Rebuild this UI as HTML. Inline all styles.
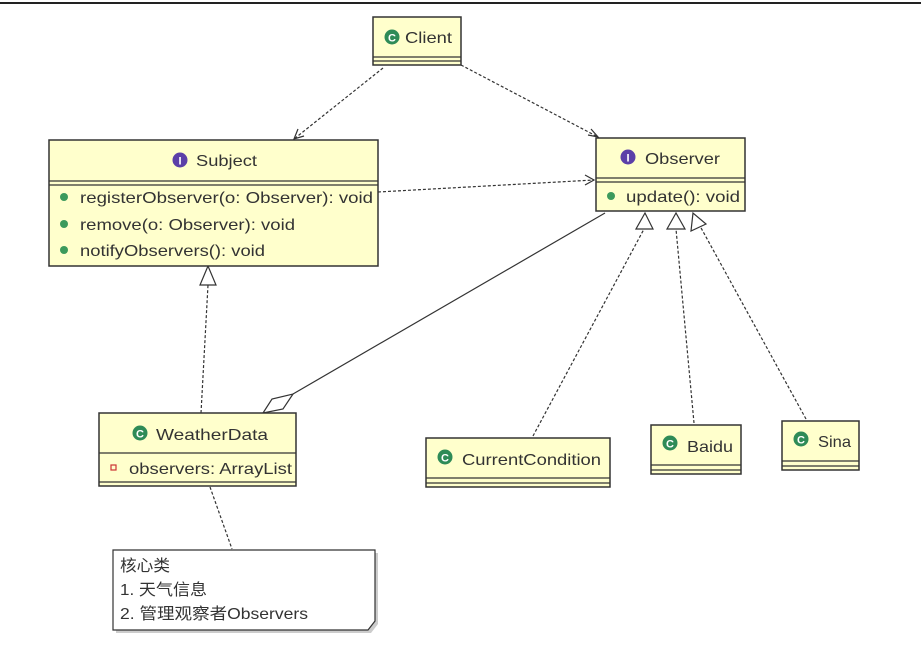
<!DOCTYPE html>
<html><head><meta charset="utf-8"><style>
html,body{margin:0;padding:0;background:#fff;width:921px;height:653px;overflow:hidden}
svg{display:block}
text{font-family:"Liberation Sans","Noto Sans CJK SC",sans-serif;fill:#333;font-size:16px}
</style></head><body>
<svg width="921" height="653" viewBox="0 0 921 653" xmlns="http://www.w3.org/2000/svg">
<defs>
<g id="gC"><circle r="7.5" fill="#2e8b57"/><text x="0" y="4.5" text-anchor="middle" style="font-size:11px;font-weight:bold;fill:#fff">C</text></g>
<g id="gI"><circle r="7.5" fill="#5b3fa8"/><text x="0" y="4.5" text-anchor="middle" style="font-size:11px;font-weight:bold;fill:#fff">I</text></g>
</defs>
<line x1="0" y1="3" x2="921" y2="3" stroke="#222" stroke-width="2"/>

<g stroke="#333" stroke-width="1.2" fill="none" stroke-dasharray="3,2">
<line x1="383" y1="68" x2="294" y2="139"/>
<line x1="461" y1="65" x2="598" y2="137"/>
<line x1="378" y1="192" x2="594" y2="180"/>
<line x1="201" y1="413" x2="208" y2="285"/>
<line x1="533" y1="436" x2="644" y2="229"/>
<line x1="694" y1="423" x2="676" y2="229"/>
<line x1="806" y1="419" x2="700" y2="226"/>
<line x1="210" y1="487" x2="232" y2="549"/>
</g>
<g stroke="#333" stroke-width="1.2" fill="none">
<polyline points="298,129 294,139 304,136"/>
<polyline points="588,135 598,137 591,129"/>
<polyline points="585,175 594,180 585,185"/>
<polygon points="208,266 200,285 216,285" fill="#fff"/>
<polygon points="645,213 636,229 653,229" fill="#fff"/>
<polygon points="676,213 667,229 685,229" fill="#fff"/>
<polygon points="693,213 691,231 706,224" fill="#fff"/>
<line x1="605" y1="213" x2="293" y2="394"/>
<polygon points="263,413 272,399 293,394 283,409" fill="#fff"/>
</g>

<g stroke="#333" stroke-width="1.5" fill="#ffffcc">
<rect x="373" y="17" width="88" height="48"/>
<rect x="49" y="140" width="329" height="126"/>
<rect x="596" y="138" width="149" height="73"/>
<rect x="99" y="413" width="197" height="73"/>
<rect x="426" y="438" width="184" height="49"/>
<rect x="651" y="425" width="90" height="49"/>
<rect x="782" y="421" width="77" height="49"/>
</g>
<g stroke="#333" stroke-width="1.2">
<line x1="373" y1="57" x2="461" y2="57"/><line x1="373" y1="61" x2="461" y2="61"/>
<line x1="49" y1="181" x2="378" y2="181"/><line x1="49" y1="185" x2="378" y2="185"/>
<line x1="596" y1="178" x2="745" y2="178"/><line x1="596" y1="182" x2="745" y2="182"/>
<line x1="99" y1="453" x2="296" y2="453"/><line x1="99" y1="482" x2="296" y2="482"/>
<line x1="426" y1="478" x2="610" y2="478"/><line x1="426" y1="483" x2="610" y2="483"/>
<line x1="651" y1="465" x2="741" y2="465"/><line x1="651" y1="470" x2="741" y2="470"/>
<line x1="782" y1="461" x2="859" y2="461"/><line x1="782" y1="466" x2="859" y2="466"/>
</g>

<g style="" >
<use href="#gC" x="392" y="37"/><text x="405" y="43" textLength="47" lengthAdjust="spacingAndGlyphs">Client</text>
<use href="#gI" x="180" y="160"/><text x="196" y="166" textLength="61" lengthAdjust="spacingAndGlyphs">Subject</text>
<use href="#gI" x="628" y="157"/><text x="645" y="164" textLength="75" lengthAdjust="spacingAndGlyphs">Observer</text>
<use href="#gC" x="140" y="433"/><text x="156" y="440" textLength="112" lengthAdjust="spacingAndGlyphs">WeatherData</text>
<use href="#gC" x="445" y="457"/><text x="462" y="465" textLength="139" lengthAdjust="spacingAndGlyphs">CurrentCondition</text>
<use href="#gC" x="670" y="443"/><text x="687" y="452" textLength="46" lengthAdjust="spacingAndGlyphs">Baidu</text>
<use href="#gC" x="801" y="439"/><text x="818" y="447" textLength="33" lengthAdjust="spacingAndGlyphs">Sina</text>
</g>

<g fill="#3c9a5c"><circle cx="64" cy="197" r="4"/><circle cx="64" cy="224" r="4"/><circle cx="64" cy="250" r="4"/><circle cx="611" cy="196" r="4"/></g>
<text x="80" y="203" textLength="293" lengthAdjust="spacingAndGlyphs">registerObserver(o: Observer): void</text>
<text x="80" y="230" textLength="215" lengthAdjust="spacingAndGlyphs">remove(o: Observer): void</text>
<text x="80" y="256" textLength="185" lengthAdjust="spacingAndGlyphs">notifyObservers(): void</text>
<text x="626" y="202" textLength="114" lengthAdjust="spacingAndGlyphs">update(): void</text>
<rect x="111" y="465" width="5" height="5" fill="none" stroke="#c33" stroke-width="1.2"/>
<text x="129" y="474" textLength="163" lengthAdjust="spacingAndGlyphs">observers: ArrayList</text>

<polygon points="116,553 378,553 378,624 371,633 116,633" fill="#999" opacity="0.5"/>
<polygon points="113,550 375,550 375,621 368,630 113,630" fill="#fff" stroke="#333" stroke-width="1.2"/>
<text x="120" y="571" textLength="50" lengthAdjust="spacingAndGlyphs">核心类</text>
<text x="120" y="595" textLength="87" lengthAdjust="spacingAndGlyphs">1. 天气信息</text>
<text x="120" y="619" textLength="188" lengthAdjust="spacingAndGlyphs">2. 管理观察者Observers</text>
</svg>
</body></html>
